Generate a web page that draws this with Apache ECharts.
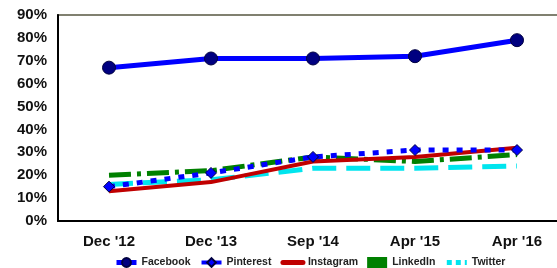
<!DOCTYPE html>
<html><head><meta charset="utf-8">
<script src="https://cdn.jsdelivr.net/npm/echarts@6/dist/echarts.min.js"></script>
<style>html,body{margin:0;padding:0;background:#fff}#c{width:557px;height:268px}</style>
</head><body><div id="c"></div>
<script>
var categories = ["Dec '12", "Dec '13", "Sep '14", "Apr '15", "Apr '16"];
var facebook = [67, 71, 71, 72, 79];
var pinterest = [15, 21, 28, 31, 31];
var instagram = [13, 17, 26, 28, 32];
var linkedin = [20, 22, 28, 26, 29];
var twitter = [16, 18, 23, 23, 24];
var yTicks = [0, 10, 20, 30, 40, 50, 60, 70, 80, 90];

var chart = echarts.init(document.getElementById('c'), null, {renderer: 'canvas'});
var font = 'Arial, "Liberation Sans", sans-serif';
chart.setOption({
  animation: false,
  grid: {left: 58, width: 510, top: 15, height: 206, show: true, borderColor: '#808070', borderWidth: 2,
    containLabel: false, outerBoundsMode: 'none'},
  legend: {
    top: 252, left: 109, itemWidth: 20, itemHeight: 11, itemGap: 9,
    textStyle: {fontFamily: font, fontSize: 10.5, fontWeight: 'bold', color: '#222'},
    data: [
      {name: 'Facebook', lineStyle: {width: 5}},
      {name: 'Pinterest', lineStyle: {width: 4, type: 'solid'}},
      {name: 'Instagram', itemStyle: {opacity: 0}, lineStyle: {width: 5, cap: 'round'}},
      {name: 'LinkedIn', icon: 'rect', itemStyle: {color: '#008000'}},
      {name: 'Twitter', itemStyle: {opacity: 0}, lineStyle: {width: 5, type: [5, 4]}}
    ]
  },
  xAxis: {
    type: 'category', data: categories, boundaryGap: true,
    axisLine: {lineStyle: {color: '#000', width: 2}},
    axisTick: {show: false},
    axisLabel: {fontFamily: font, fontSize: 15, fontWeight: 'bold', color: '#111', margin: 13}
  },
  yAxis: {
    type: 'value', min: yTicks[0], max: yTicks[yTicks.length - 1], interval: 10,
    axisLine: {show: true, lineStyle: {color: '#000', width: 2}},
    axisTick: {show: false},
    splitLine: {show: false},
    axisLabel: {fontFamily: font, fontSize: 15, fontWeight: 'bold', color: '#111', margin: 11,
      formatter: function (v) { return v + '%'; }}
  },
  series: [
    {name: 'Facebook', type: 'line', data: facebook, symbol: 'circle', symbolSize: 13,
      lineStyle: {color: '#0000ff', width: 5},
      itemStyle: {color: '#000080', borderColor: '#000040', borderWidth: 1}, z: 5},
    {name: 'Pinterest', type: 'line', data: pinterest, symbol: 'diamond', symbolSize: 11,
      lineStyle: {color: '#0000ff', width: 5, type: [6, 8]},
      itemStyle: {color: '#0000ff', borderColor: '#000040', borderWidth: 1}, z: 4},
    {name: 'Instagram', type: 'line', data: instagram, symbol: 'none',
      lineStyle: {color: '#c00000', width: 4},
      itemStyle: {color: '#c00000'}, z: 3},
    {name: 'LinkedIn', type: 'line', data: linkedin, symbol: 'none',
      lineStyle: {color: '#008000', width: 5, type: [22, 6, 4, 6]},
      itemStyle: {color: '#008000'}, z: 2},
    {name: 'Twitter', type: 'line', data: twitter, symbol: 'none',
      lineStyle: {color: '#00e5ee', width: 5, type: [24, 10]},
      itemStyle: {color: '#00e5ee'}, z: 1}
  ]
});
</script></body></html>
